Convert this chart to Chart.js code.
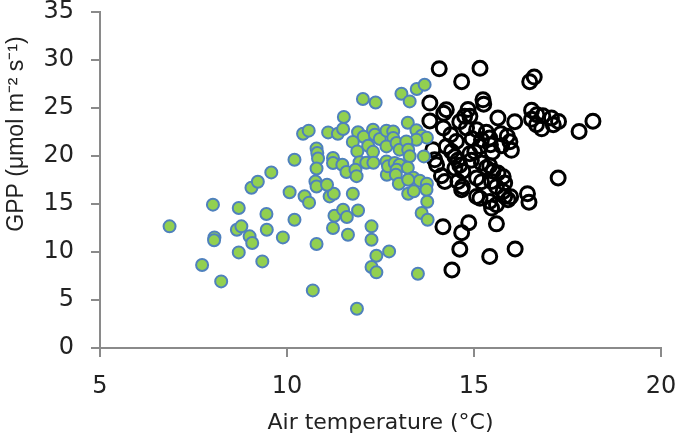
<!DOCTYPE html>
<html>
<head>
<meta charset="utf-8">
<title>GPP vs air temperature</title>
<script src="https://cdn.jsdelivr.net/npm/chart.js@4.4.1/dist/chart.umd.min.js"></script>
<style>
    html, body { margin: 0; padding: 0; background: #fff; }
    #gppCanvas { display: block; }
</style>
</head>
<body>
<canvas id="gppCanvas" width="680" height="436"></canvas>
<script>
// Puntos verdes (rellenos)
const coolTemp = [6.86, 8.02, 8.71, 8.06, 8.05, 8.66, 8.78, 9.00, 9.07, 9.45, 9.46, 9.89, 10.20, 8.71, 7.73, 9.34, 8.24,
    10.79, 10.69, 11.87, 10.07, 9.05, 10.47, 10.59, 11.14, 11.25, 11.76, 11.27, 11.50, 11.60, 11.90, 11.23, 11.63,
    12.26, 12.26, 12.39, 12.73, 12.26, 12.39, 12.03, 12.37, 11.52, 10.43, 10.58, 11.10, 11.36, 11.50, 11.90, 12.05,
    12.30, 12.35, 12.48, 12.66, 12.84, 12.84, 11.76, 12.17, 10.79, 10.81, 10.83, 10.20, 11.23, 11.23, 11.88, 12.30,
    11.94, 12.12, 12.31, 11.48, 11.59, 10.79, 11.83, 11.86, 12.67, 9.58, 9.22, 10.76, 10.79, 11.07, 13.06, 13.28,
    13.47, 13.68, 13.23, 13.46, 13.60, 13.74, 13.46, 12.66, 12.93, 13.01, 13.19, 13.24, 13.28, 13.66, 12.66, 12.70,
    12.88, 13.01, 12.93, 13.23, 12.91, 12.99, 13.38, 13.55, 13.74, 13.24, 13.24, 13.39, 13.73, 13.75, 13.60, 13.76,
    13.50];
const coolGpp = [12.67, 14.93, 14.58, 11.52, 11.23, 12.32, 12.67, 11.63, 10.94, 13.96, 12.32, 11.52, 13.36, 9.96, 8.65, 9.02, 6.94,
    10.83, 6.00, 4.09, 16.23, 16.70, 15.81, 15.14, 15.79, 16.07, 16.07, 13.78, 14.41, 13.65, 14.33, 12.50, 11.80,
    12.67, 11.28, 9.61, 10.06, 8.44, 7.88, 25.94, 25.58, 24.06, 22.32, 22.64, 22.46, 22.32, 22.81, 22.48, 22.01,
    22.74, 22.22, 21.77, 22.64, 22.56, 21.88, 21.47, 21.07, 20.78, 20.31, 19.74, 19.61, 19.79, 19.27, 20.48, 20.43,
    19.35, 19.30, 19.30, 19.09, 18.34, 18.70, 18.57, 17.90, 18.05, 18.29, 17.32, 17.35, 16.83, 17.01, 26.49, 25.69,
    26.98, 27.43, 23.47, 22.69, 22.11, 21.91, 21.70, 21.00, 21.35, 20.66, 21.52, 20.66, 19.98, 19.96, 19.44, 18.92,
    19.27, 19.09, 18.57, 18.78, 18.05, 17.11, 17.74, 17.43, 17.11, 17.53, 16.07, 16.33, 16.49, 15.24, 14.06, 13.36,
    7.74];

// Círculos negros (vacíos)
const warmTemp = [14.07, 15.16, 14.67, 16.49, 16.61, 13.82, 14.26, 14.19, 14.84, 14.89, 14.75, 15.24, 15.26, 15.64, 16.09,
    13.82, 16.54, 16.68, 16.84, 17.07, 17.26, 16.54, 16.67, 16.81, 17.81, 18.18, 14.18, 14.38, 14.53, 14.62, 14.80,
    15.07, 15.33, 15.42, 15.20, 15.72, 15.89, 15.96, 16.00, 15.74, 14.95, 15.16, 15.02, 15.44, 15.49, 13.95, 14.00,
    14.26, 14.40, 14.49, 14.57, 14.62, 14.49, 14.70, 14.89, 14.93, 15.20, 15.33, 15.42, 15.51, 15.64, 15.78, 14.13,
    14.22, 14.57, 14.69, 15.07, 15.20, 15.47, 15.60, 15.78, 15.82, 15.91, 15.07, 15.16, 15.42, 15.47, 15.60, 15.98,
    16.43, 16.47, 17.25, 14.17, 14.67, 14.86, 14.62, 15.60, 15.42, 16.10, 14.41, 14.67, 17.12, 15.82, 13.90];
const warmGpp = [29.09, 29.13, 27.74, 27.74, 28.23, 25.52, 24.82, 24.46, 24.85, 24.13, 24.13, 25.86, 25.40, 23.96, 23.57,
    23.65, 24.77, 24.30, 24.20, 23.96, 23.60, 23.83, 23.26, 22.84, 22.56, 23.63, 22.92, 22.22, 21.52, 23.57, 22.92,
    22.74, 22.48, 21.88, 21.70, 22.32, 22.06, 21.49, 20.60, 21.07, 21.80, 21.00, 20.45, 21.18, 20.40, 19.61, 19.09,
    21.00, 20.48, 19.93, 19.56, 19.04, 18.73, 18.42, 20.24, 19.56, 19.27, 18.78, 18.99, 18.40, 18.23, 17.84, 17.95,
    17.35, 17.35, 16.80, 17.71, 17.32, 17.35, 16.80, 16.31, 15.79, 15.45, 15.79, 15.60, 15.27, 14.58, 14.93, 15.76,
    16.07, 15.19, 17.71, 12.64, 12.01, 13.05, 10.29, 12.93, 9.54, 10.32, 8.13, 16.49, 23.26, 17.19, 20.66];

// Ejes
const xTicks = [5, 10, 15, 20];
const yTicks = [0, 5, 10, 15, 20, 25, 30, 35];
const xTitle = 'Air temperature (°C)';
const yTitle = 'GPP (μmol m⁻² s⁻¹)';

const toPoints = (xs, ys) => xs.map((x, i) => ({ x: x, y: ys[i] }));

// Título del eje Y en su sitio (más arriba que el centro)
const yTitlePlugin = {
    id: 'yTitleManual',
    afterDraw(chart) {
        const ctx = chart.ctx;
        ctx.save();
        ctx.translate(17, 134);
        ctx.rotate(-Math.PI / 2);
        ctx.font = '23px "Liberation Sans", Arial, sans-serif';
        ctx.fillStyle = '#222';
        ctx.textAlign = 'center';
        ctx.textBaseline = 'middle';
        ctx.fillText(yTitle, 0, 0);
        ctx.restore();
    }
};

const axisGray = '#8a8a8a';
const tickFont = { family: '"DejaVu Sans", sans-serif', size: 24 };

new Chart(document.getElementById('gppCanvas'), {
    type: 'scatter',
    data: {
        datasets: [
            {
                label: 'cool',
                data: toPoints(coolTemp, coolGpp),
                backgroundColor: '#92d050',
                borderColor: '#4f81bd',
                borderWidth: 2,
                pointRadius: 6,
                pointHoverRadius: 6
            },
            {
                label: 'warm',
                data: toPoints(warmTemp, warmGpp),
                backgroundColor: 'rgba(255,255,255,0)',
                borderColor: '#000',
                borderWidth: 3,
                pointRadius: 7,
                pointHoverRadius: 7
            }
        ]
    },
    options: {
        responsive: false,
        animation: false,
        devicePixelRatio: 1,
        layout: { padding: { top: 12, right: 19, left: 0, bottom: 0 } },
        plugins: {
            legend: { display: false },
            tooltip: { enabled: false }
        },
        scales: {
            x: {
                type: 'linear',
                min: xTicks[0],
                max: xTicks[xTicks.length - 1],
                afterBuildTicks: scale => { scale.ticks = xTicks.map(v => ({ value: v })); },
                afterFit: scale => {
                    scale.height = 88;
                    scale.paddingLeft = 0;
                    scale.paddingRight = 0;
                },
                grid: { drawOnChartArea: false, drawTicks: true, tickLength: 9, color: axisGray, lineWidth: 2 },
                border: { color: axisGray, width: 2 },
                ticks: { font: tickFont, color: '#222', padding: 15, maxRotation: 0 },
                title: {
                    display: true,
                    text: xTitle,
                    font: { family: '"DejaVu Sans", sans-serif', size: 22 },
                    color: '#222',
                    padding: { top: 0, bottom: 0 }
                }
            },
            y: {
                type: 'linear',
                min: yTicks[0],
                max: yTicks[yTicks.length - 1],
                afterBuildTicks: scale => { scale.ticks = yTicks.map(v => ({ value: v })); },
                afterFit: scale => {
                    scale.width = 100;
                    scale.paddingTop = 0;
                    scale.paddingBottom = 0;
                },
                grid: { drawOnChartArea: false, drawTicks: true, tickLength: 9, color: axisGray, lineWidth: 2 },
                border: { color: axisGray, width: 2 },
                ticks: { font: tickFont, color: '#222', padding: 17 }
            }
        }
    },
    plugins: [yTitlePlugin]
});
</script>
</body>
</html>
